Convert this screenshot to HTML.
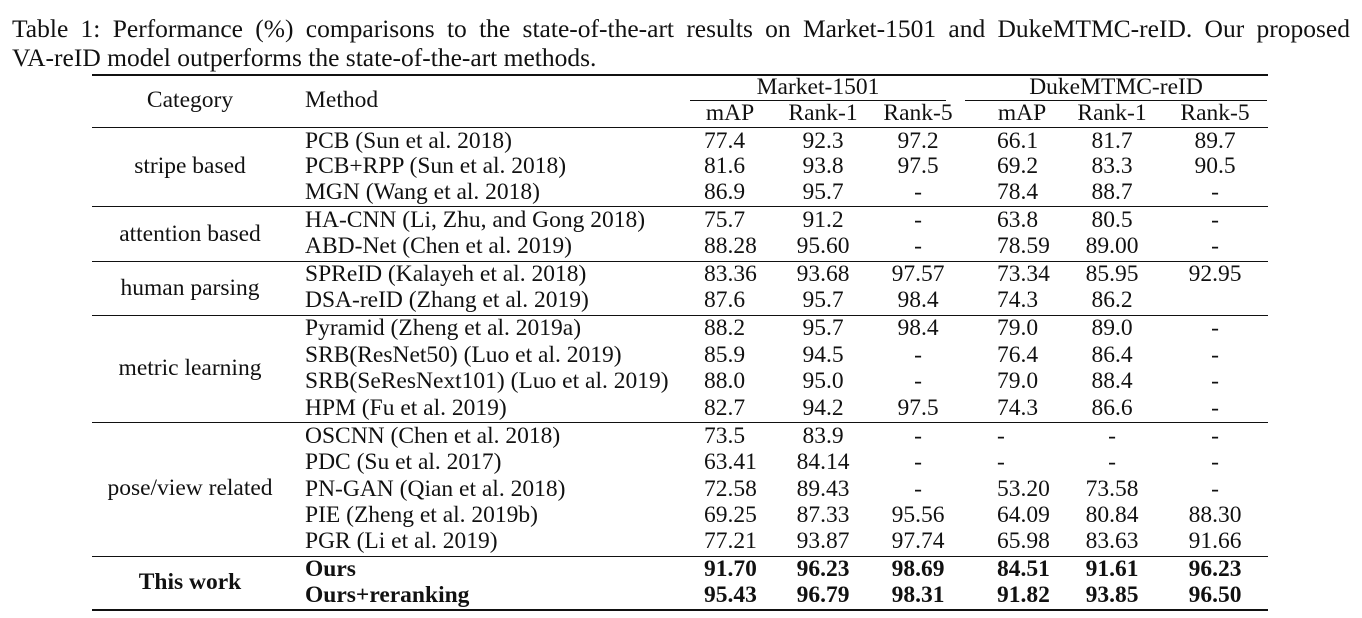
<!DOCTYPE html>
<html><head><meta charset="utf-8"><style>
body{margin:0;width:1362px;height:618px;background:#fff;position:relative;overflow:hidden;font-family:"Liberation Serif",serif;color:#111}
.t{position:absolute;font-size:23.5px;line-height:24px;white-space:nowrap}
.c{transform:translateX(-50%)}
.b{font-weight:bold}
.r{position:absolute;height:1.5px;background:#111}
#cap1{position:absolute;left:12px;top:14px;width:1338px;font-size:25.5px;text-align:justify;text-align-last:justify;white-space:nowrap}
#cap2{position:absolute;left:12px;top:43px;font-size:25.5px;white-space:nowrap}
</style></head><body>
<div id="cap1">Table 1: Performance (%) comparisons to the state-of-the-art results on Market-1501 and DukeMTMC-reID. Our proposed</div>
<div id="cap2">VA-reID model outperforms the state-of-the-art methods.</div>
<div class="r" style="left:92px;top:74px;width:1176px"></div>
<div class="r" style="left:690px;top:100px;width:256px;height:1px"></div>
<div class="r" style="left:965px;top:100px;width:302px;height:1px"></div>
<div class="r" style="left:92px;top:127px;width:1176px;height:1px"></div>
<div class="r" style="left:92px;top:206px;width:1176px;height:1px"></div>
<div class="r" style="left:92px;top:261px;width:1176px;height:1px"></div>
<div class="r" style="left:92px;top:315px;width:1176px;height:1px"></div>
<div class="r" style="left:92px;top:422px;width:1176px;height:1px"></div>
<div class="r" style="left:92px;top:556px;width:1176px;height:1px"></div>
<div class="r" style="left:92px;top:609px;width:1176px"></div>
<div class="t c" style="left:190px;top:88px">Category</div>
<div class="t" style="left:305px;top:88px">Method</div>
<div class="t c" style="left:818px;top:75px">Market-1501</div>
<div class="t c" style="left:1116px;top:75px">DukeMTMC-reID</div>
<div id="rows"></div>
<script>
const cols=[730,823,918,1022,1112,1215];
const heads=["mAP","Rank-1","Rank-5","mAP","Rank-1","Rank-5"];
const cats=[["stripe based",166],["attention based",234],["human parsing",288],["metric learning",368],["pose/view related",488]];
const methods=["PCB (Sun et al. 2018)","PCB+RPP (Sun et al. 2018)","MGN (Wang et al. 2018)","HA-CNN (Li, Zhu, and Gong 2018)","ABD-Net (Chen et al. 2019)","SPReID (Kalayeh et al. 2018)","DSA-reID (Zhang et al. 2019)","Pyramid (Zheng et al. 2019a)","SRB(ResNet50) (Luo et al. 2019)","SRB(SeResNext101) (Luo et al. 2019)","HPM (Fu et al. 2019)","OSCNN (Chen et al. 2018)","PDC (Su et al. 2017)","PN-GAN (Qian et al. 2018)","PIE (Zheng et al. 2019b)","PGR (Li et al. 2019)","Ours","Ours+reranking"];
const vals=[["77.4","92.3","97.2","66.1","81.7","89.7"],["81.6","93.8","97.5","69.2","83.3","90.5"],["86.9","95.7","-","78.4","88.7","-"],["75.7","91.2","-","63.8","80.5","-"],["88.28","95.60","-","78.59","89.00","-"],["83.36","93.68","97.57","73.34","85.95","92.95"],["87.6","95.7","98.4","74.3","86.2",""],["88.2","95.7","98.4","79.0","89.0","-"],["85.9","94.5","-","76.4","86.4","-"],["88.0","95.0","-","79.0","88.4","-"],["82.7","94.2","97.5","74.3","86.6","-"],["73.5","83.9","-","-","-","-"],["63.41","84.14","-","-","-","-"],["72.58","89.43","-","53.20","73.58","-"],["69.25","87.33","95.56","64.09","80.84","88.30"],["77.21","93.87","97.74","65.98","83.63","91.66"],["91.70","96.23","98.69","84.51","91.61","96.23"],["95.43","96.79","98.31","91.82","93.85","96.50"]];
const ys=[141,166,192,220,246,274,300,328,355,381,408,436,462,489,515,541,569,595];
const R=document.getElementById('rows');
function mk(txt,x,y,cls,name){const d=document.createElement('div');d.className='t '+cls;d.textContent=txt;d.style.left=x+'px';d.style.top=(y-12)+'px';


R.appendChild(d);}
heads.forEach((h,i)=>mk(h,cols[i],113,'c','column-header'));
cats.forEach(c=>mk(c[0],190,c[1],'c','category-label'));
mk("This work",190,582,'c b','category-label');
methods.forEach((m,i)=>{const bold=i>=16?' b':'';mk(m,305,ys[i],bold,'method-name');
vals[i].forEach((v,j)=>{if(v!=='')mk(v,j==0||j==3?cols[j]-(j==0?26:25):cols[j],ys[i],(j==0||j==3?'':'c')+bold,'value-cell');});});
</script>
</body></html>
